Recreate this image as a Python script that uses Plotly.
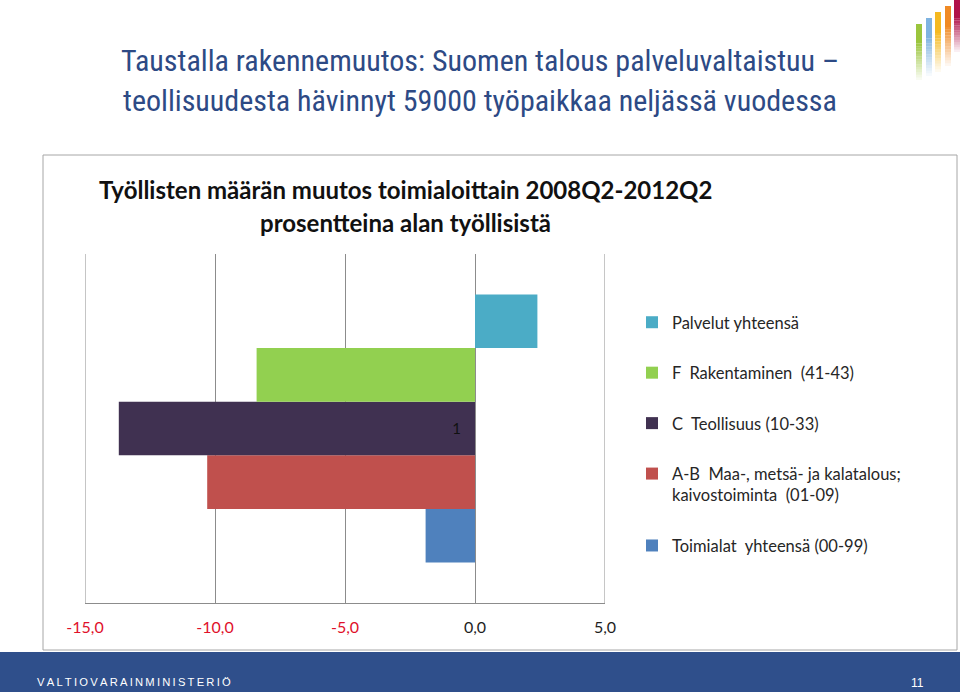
import plotly.graph_objects as go

# ---------------- data ----------------
categories = ["1"]
series_names = [
    "Toimialat  yhteensä (00-99)",
    "A-B  Maa-, metsä- ja kalatalous;<br>kaivostoiminta  (01-09)",
    "C  Teollisuus (10-33)",
    "F  Rakentaminen  (41-43)",
    "Palvelut yhteensä",
]
series_values = [-1.9, -10.3, -13.7, -8.4, 2.4]
series_colors = ["#4F81BD", "#C0504D", "#403151", "#92D050", "#4BACC6"]
tick_values = [-15, -10, -5, 0, 5]

# ---------------- geometry helpers ----------------
W, H = 960, 692
L, R, T, B = 85, 605, 254, 603  # plot area in pixels


def px(x):
    return (x - L) / (R - L)


def py(y):
    return (B - y) / (B - T)


def tick_label(v):
    s = f"{v:.1f}".replace(".", ",")
    col = "#E0102A" if v < 0 else "#1E1E1E"
    return f'<span style="color:{col}">{s}</span>'


GRID = "#8C8C8C"

fig = go.Figure()
n = len(series_names)
for i, (name, val, col) in enumerate(zip(series_names, series_values, series_colors)):
    fig.add_trace(go.Bar(
        x=[val], y=categories, orientation="h", name=name,
        marker=dict(color=col, line=dict(width=0)),
        legendgroup=f"g{i}", legendrank=n - i,
    ))

shapes = []
# edge grid lines (first and last tick sit on the plot edges)
for v in (tick_values[0], tick_values[-1]):
    shapes.append(dict(type="line", xref="x", yref="paper", x0=v, x1=v, y0=0, y1=1,
                       line=dict(color=GRID, width=1), layer="below"))
# chart frame
shapes.append(dict(type="rect", xref="paper", yref="paper",
                   x0=px(43), x1=px(957), y0=py(650), y1=py(155),
                   line=dict(color="#A6A6A6", width=1), fillcolor="rgba(0,0,0,0)", layer="below"))
# footer band
shapes.append(dict(type="rect", xref="paper", yref="paper",
                   x0=px(0), x1=px(960), y0=py(692), y1=py(652),
                   line=dict(width=0), fillcolor="#2F4F8B", layer="above"))
# logo bars with fading
logo = [(916, 24, 80, "155,197,61"), (926, 18, 76, "127,179,224"),
        (935, 12, 72, "245,185,33"), (945, 6, 66, "240,138,36"),
        (954, 0, 52, "176,18,74")]
nseg = 14
for x0, ytop, yend, rgb in logo:
    solid = ytop + (yend - ytop) * 0.35
    shapes.append(dict(type="rect", xref="paper", yref="paper",
                       x0=px(x0), x1=px(x0 + 6), y0=py(solid), y1=py(ytop),
                       line=dict(width=0), fillcolor=f"rgb({rgb})"))
    step = (yend - solid) / nseg
    for k in range(nseg):
        a = 1 - (k + 1) / (nseg + 1)
        shapes.append(dict(type="rect", xref="paper", yref="paper",
                           x0=px(x0), x1=px(x0 + 6),
                           y0=py(solid + (k + 1) * step), y1=py(solid + k * step),
                           line=dict(width=0), fillcolor=f"rgba({rgb},{a:.3f})"))

title_font = dict(family="Liberation Sans Narrow, Arial Narrow, Roboto Condensed, Liberation Sans, sans-serif",
                  size=30, color="#2D4A85")
ann = [
    dict(text="Taustalla rakennemuutos: Suomen talous palveluvaltaistuu –",
         x=px(480), y=py(60), xref="paper", yref="paper", showarrow=False,
         xanchor="center", yanchor="middle", font=title_font),
    dict(text="teollisuudesta hävinnyt 59000 työpaikkaa neljässä vuodessa",
         x=px(480), y=py(100), xref="paper", yref="paper", showarrow=False,
         xanchor="center", yanchor="middle", font=title_font),
    dict(text="<b>Työllisten määrän muutos toimialoittain 2008Q2-2012Q2</b>",
         x=px(405), y=py(190), xref="paper", yref="paper", showarrow=False,
         xanchor="center", yanchor="middle", font=dict(family="Lato", size=24, color="#111111")),
    dict(text="<b>prosentteina alan työllisistä</b>",
         x=px(405), y=py(222), xref="paper", yref="paper", showarrow=False,
         xanchor="center", yanchor="middle", font=dict(family="Lato", size=24, color="#111111")),
    dict(text="\u2009".join("VALTIOVARAINMINISTERIÖ"),
         x=px(35), y=py(682), xref="paper", yref="paper", showarrow=False,
         xanchor="left", yanchor="middle",
         font=dict(family="Liberation Sans, sans-serif", size=11.2, color="white")),
    dict(text="11", x=px(917), y=py(683), xref="paper", yref="paper", showarrow=False,
         xanchor="center", yanchor="middle",
         font=dict(family="Liberation Sans, sans-serif", size=12, color="white")),
]

fig.update_layout(
    width=W, height=H, autosize=False,
    margin=dict(l=L, r=W - R, t=T, b=H - B, pad=0),
    paper_bgcolor="white", plot_bgcolor="white",
    barmode="group", bargap=0.232, bargroupgap=0,
    showlegend=True,
    legend=dict(x=px(632), y=py(305), xanchor="left", yanchor="top",
                traceorder="grouped", tracegroupgap=26, valign="top",
                font=dict(family="Lato", size=16.5, color="#262626"),
                bgcolor="rgba(0,0,0,0)", itemwidth=30),
    xaxis=dict(range=[tick_values[0], tick_values[-1]], tickvals=tick_values,
               ticktext=[tick_label(v) for v in tick_values],
               showgrid=True, gridcolor=GRID, gridwidth=1,
               zeroline=False, showline=True, linecolor=GRID, linewidth=1,
               ticks="", ticklabelstandoff=10,
               tickfont=dict(family="Lato", size=16, color="#1E1E1E")),
    yaxis=dict(type="category", categoryarray=categories, range=[-0.5, 0.5],
               anchor="free", position=px(475), showgrid=False, showline=False,
               zeroline=False, ticks="", ticklabelstandoff=14,
               tickfont=dict(family="Lato", size=15, color="#111111")),
    shapes=shapes, annotations=ann,
)

fig.write_html("out.html")
